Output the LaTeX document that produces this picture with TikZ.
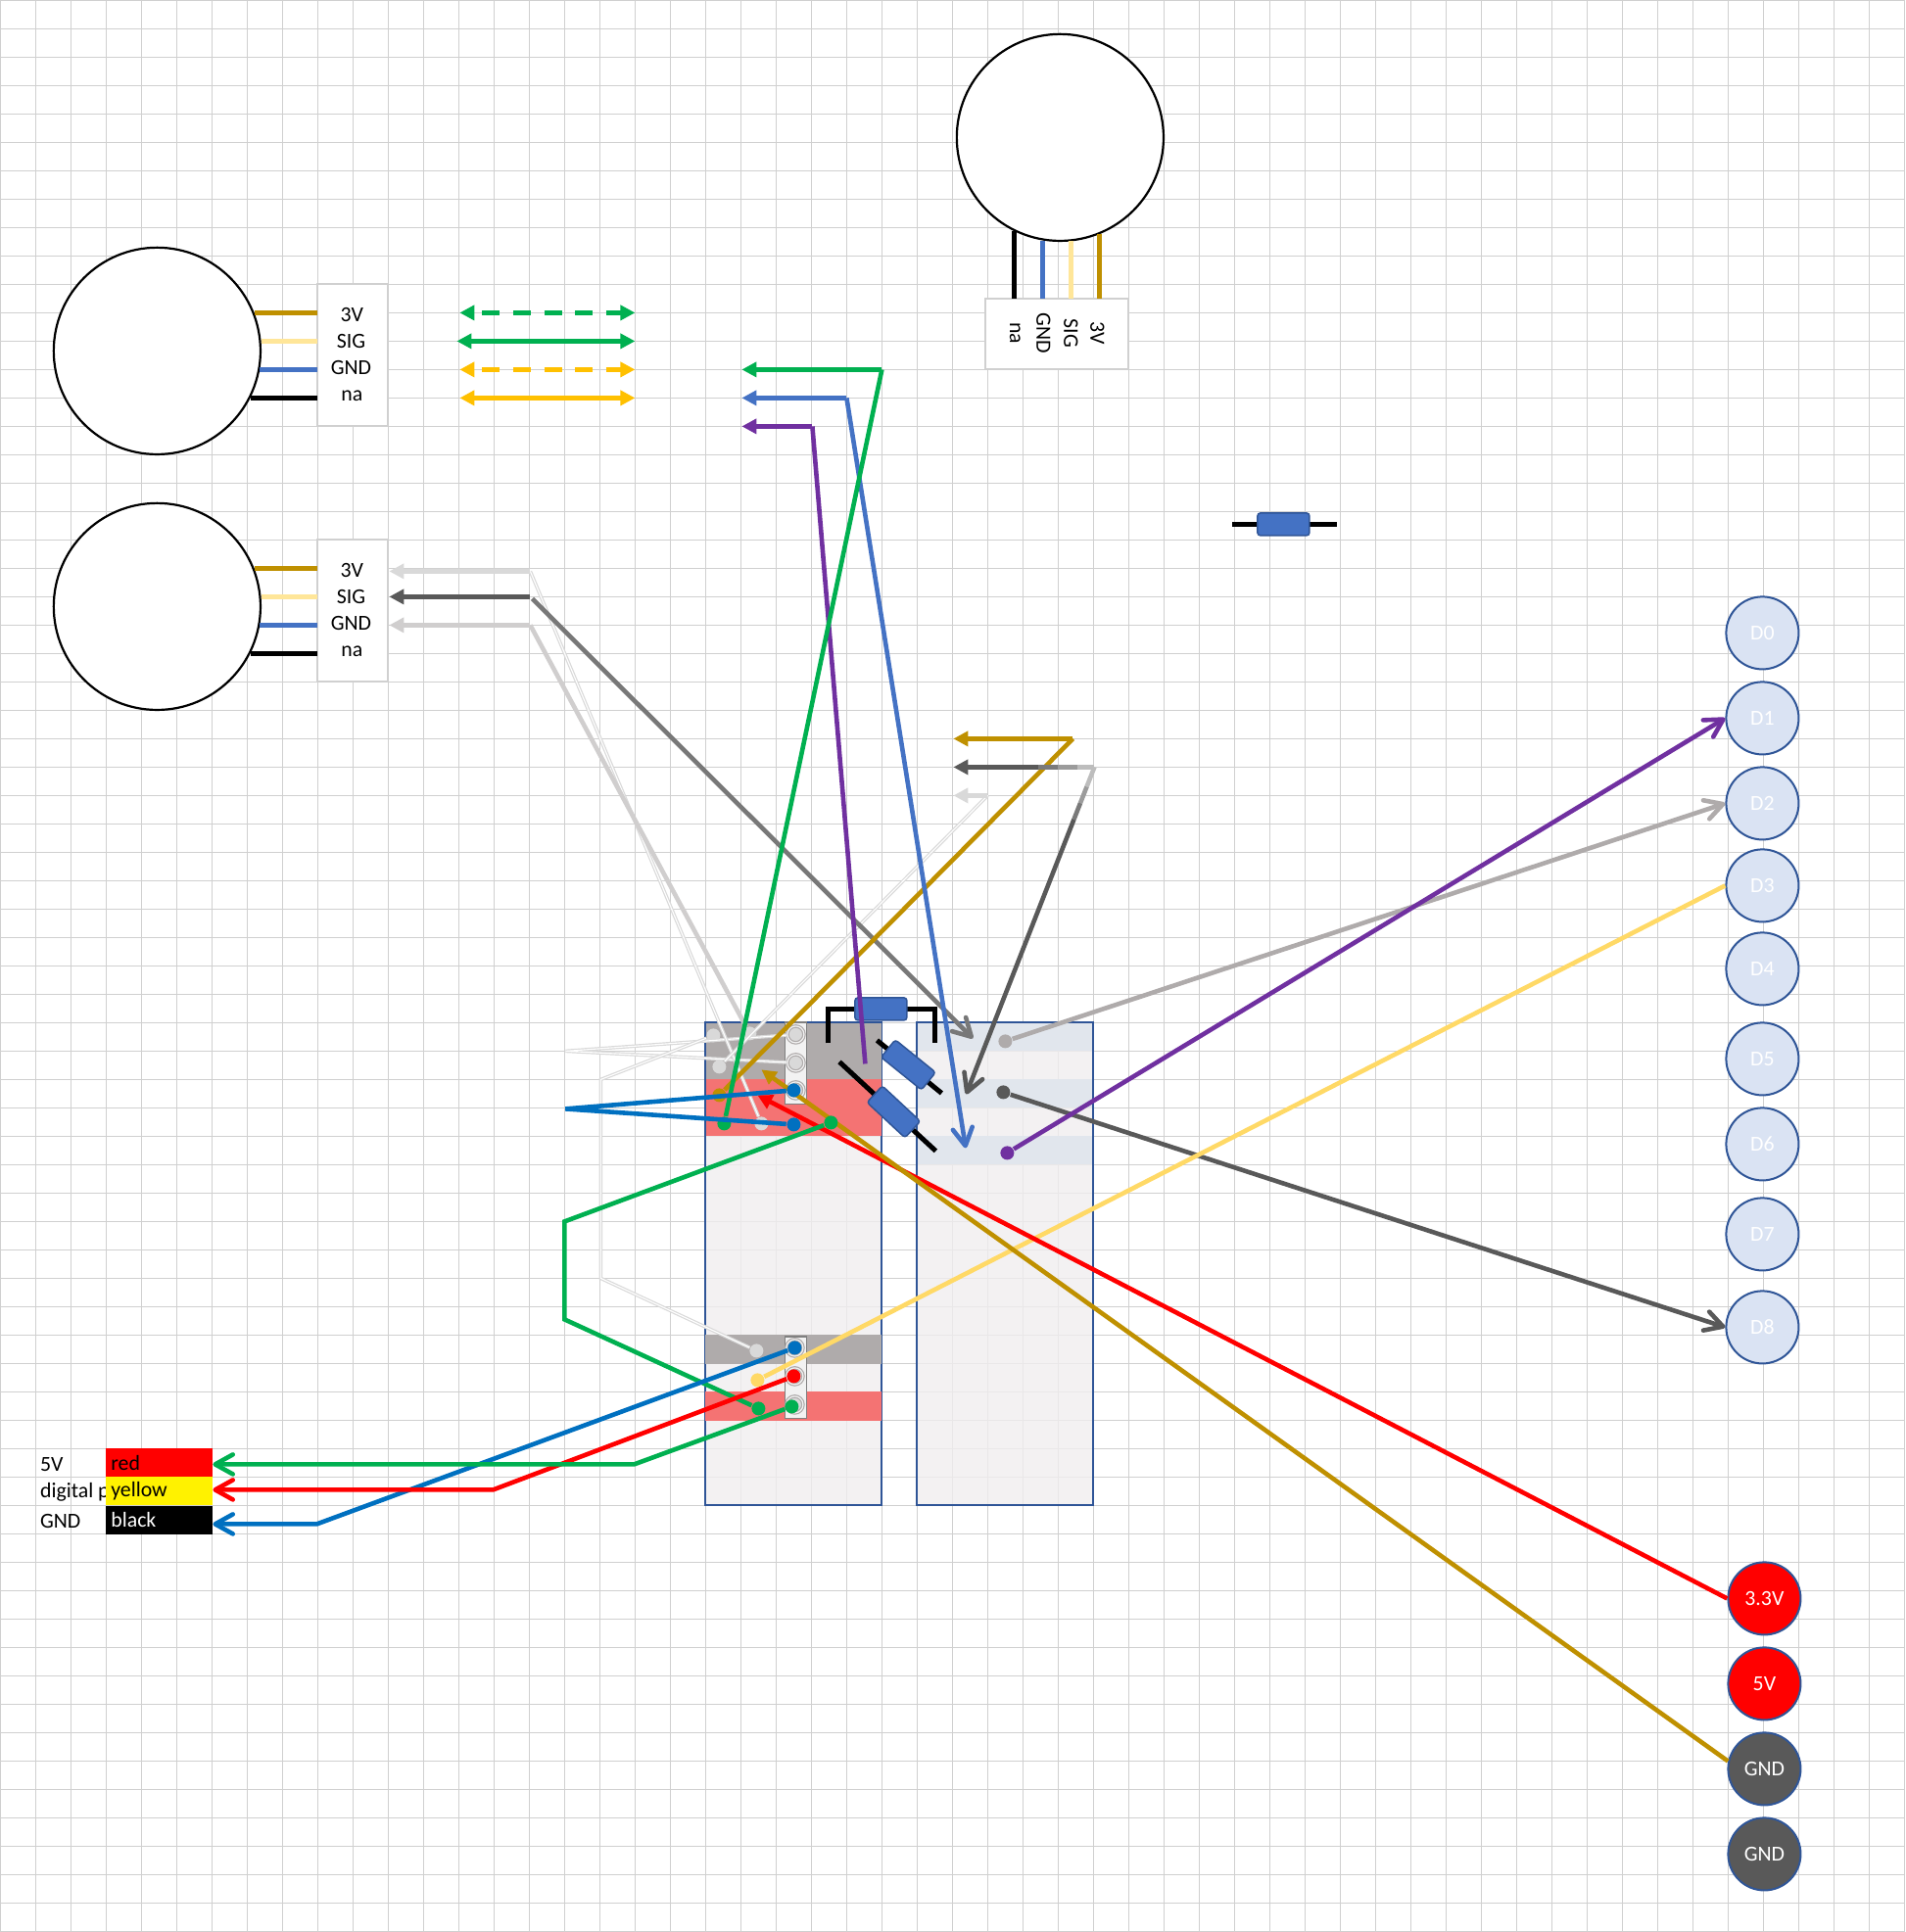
\documentclass[tikz,border=0pt]{standalone}
\usepackage{fontspec}
\setmainfont{Carlito}
\usetikzlibrary{arrows.meta,calc}
\definecolor{gridgray}{HTML}{D0D0D0}
\definecolor{boardblue}{HTML}{2F5597}
\definecolor{boardfill}{HTML}{F0EDEF}
\definecolor{bandgray}{HTML}{AFABAB}
\definecolor{bandred}{HTML}{F47373}
\definecolor{bandpale}{HTML}{E1E6ED}
\definecolor{resblue}{HTML}{4472C4}
\definecolor{pinpale}{HTML}{DAE3F3}
\definecolor{wireamber}{HTML}{BF9000}
\definecolor{wirecream}{HTML}{FFE699}
\definecolor{wireyellow}{HTML}{FFD966}
\definecolor{wiregreen}{HTML}{00B050}
\definecolor{wireorange}{HTML}{FFC000}
\definecolor{wirepurple}{HTML}{7030A0}
\definecolor{wiredeep}{HTML}{0070C0}
\definecolor{wiredark}{HTML}{595959}
\definecolor{wirelight}{HTML}{D9D9D9}
\definecolor{wirethick}{HTML}{D0CECE}
\tikzset{
  tri/.tip={Triangle[length=.15cm,width=.15cm]},
  barb/.tip={Straight Barb[length=.18cm,width=.2cm,round]},
  wire/.style={line width=.046cm,draw=#1},
  thinwire/.style={line width=.012cm,draw=wirelight,double=white,double distance=.011cm},
  lead/.style={line width=.05cm,draw=black},
  sensor/.style={circle,draw=black,fill=white,line width=.022cm,minimum size=2.11cm,inner sep=0pt},
  sensorbox/.style={rectangle,draw=gridgray,fill=white,line width=.02cm,inner sep=0pt},
  txt/.style={inner sep=0pt,font=\fontsize{6.2}{7}\selectfont},
  pinhead/.style={circle,draw=boardblue,fill=#1,line width=.02cm,minimum size=.74cm,inner sep=0pt,text=white,font=\fontsize{6.2}{7}\selectfont},
  legcell/.style={rectangle,fill=#1,inner xsep=.05cm,inner ysep=0pt,text width=.99cm,minimum height=.29cm,align=left,font=\fontsize{6.2}{7}\selectfont},
  resbody/.style={rectangle,draw=boardblue,fill=resblue,line width=.015cm,rounded corners=.03cm,minimum width=.53cm,minimum height=.23cm,inner sep=0pt},
  strip/.style={rectangle,draw=black!50,fill=black!5,line width=.018cm,minimum width=.22cm,minimum height=.83cm,inner sep=0pt},
  hole/.style={circle,draw=bandgray,fill=wirelight,line width=.012cm,double=black!5,double distance=.012cm,minimum size=.17cm,inner sep=0pt},
  wiredot/.style={circle,fill=#1,minimum size=.14cm,inner sep=0pt},
}
\begin{document}
\begin{tikzpicture}[x=.01cm,y=-.01cm]
        \useasboundingbox (-.4,-.4) rectangle (1944.6,1972.6);
        \draw[gridgray,line width=.011cm,y=.01cm,xstep=36,ystep=29] (-.4,-1972.6) grid (1944.6,.4);

        \node[sensor] (sensorA) at (160,358) {};
        \node[sensor] (sensorB) at (160,619) {};
        \node[sensor] (sensorC) at (1082,140) {};
        \node[sensorbox,minimum width=.72cm,minimum height=1.45cm] (boxA) at (360,362.5) {};
        \node[sensorbox,minimum width=.72cm,minimum height=1.45cm] (boxB) at (360,623.5) {};
        \node[sensorbox,minimum width=1.46cm,minimum height=.72cm] (boxC) at (1078.7,341) {};
        \node[txt] (aThree) at (359,321) {3V};
        \node[txt] (aSig) at (358,348) {SIG};
        \node[txt] (aGnd) at (358,375) {GND};
        \node[txt] (aNa) at (359,404) {na};
        \node[txt] (bThree) at (359,582) {3V};
        \node[txt] (bSig) at (358,609) {SIG};
        \node[txt] (bGnd) at (358,636) {GND};
        \node[txt] (bNa) at (359,665) {na};
        \node[txt,rotate=-90] (cNa) at (1036,340) {na};
        \node[txt,rotate=-90] (cGnd) at (1065,340) {GND};
        \node[txt,rotate=-90] (cSig) at (1093,340) {SIG};
        \node[txt,rotate=-90] (cThree) at (1120,340) {3V};
        \coordinate (aEndOne) at (324,319);
        \coordinate (aEndTwo) at (324,348);
        \coordinate (aEndThree) at (324,377);
        \coordinate (aEndFour) at (324,406);
        \coordinate (bEndOne) at (324,580);
        \coordinate (bEndTwo) at (324,609);
        \coordinate (bEndThree) at (324,638);
        \coordinate (bEndFour) at (324,667);
        \coordinate (cEndOne) at (1035,305);
        \coordinate (cEndTwo) at (1064,305);
        \coordinate (cEndThree) at (1093,305);
        \coordinate (cEndFour) at (1122,305);
        \draw[wire=wireamber] (sensorA.21.6 |- aEndOne) -- (aEndOne);
        \draw[wire=wirecream] (sensorA.5.4 |- aEndTwo) -- (aEndTwo);
        \draw[wire=resblue] (sensorA.-10.3 |- aEndThree) -- (aEndThree);
        \draw[wire=black] (sensorA.-26.9 |- aEndFour) -- (aEndFour);
        \draw[wire=wireamber] (sensorB.21.6 |- bEndOne) -- (bEndOne);
        \draw[wire=wirecream] (sensorB.5.4 |- bEndTwo) -- (bEndTwo);
        \draw[wire=resblue] (sensorB.-10.3 |- bEndThree) -- (bEndThree);
        \draw[wire=black] (sensorB.-26.9 |- bEndFour) -- (bEndFour);
        \draw[wire=black] (sensorC.-116.3 -| cEndOne) -- (cEndOne);
        \draw[wire=resblue] (sensorC.-99.8 -| cEndTwo) -- (cEndTwo);
        \draw[wire=wirecream] (sensorC.-84 -| cEndThree) -- (cEndThree);
        \draw[wire=wireamber] (sensorC.-67.8 -| cEndFour) -- (cEndFour);

        \coordinate (keyOneL) at (469,319);
        \coordinate (keyOneR) at (648,319);
        \coordinate (keyTwoL) at (466,348);
        \coordinate (keyTwoR) at (648,348);
        \coordinate (keyThreeL) at (469,377);
        \coordinate (keyThreeR) at (648,377);
        \coordinate (keyFourL) at (469,406);
        \coordinate (keyFourR) at (648,406);
        \draw[wire=wiregreen,tri-tri,dash pattern=on .18cm off .135cm,dash phase=.225cm] (keyOneL) -- (keyOneR);
        \draw[wire=wiregreen,tri-tri] (keyTwoL) -- (keyTwoR);
        \draw[wire=wireorange,tri-tri,dash pattern=on .18cm off .135cm,dash phase=.225cm] (keyThreeL) -- (keyThreeR);
        \draw[wire=wireorange,tri-tri] (keyFourL) -- (keyFourR);

        \coordinate (loneL) at (1258,535);
        \coordinate (loneR) at (1365,535);
        \draw[lead] (loneL) -- (loneR);
        \node[resbody] (resLone) at (1310,535) {};

        \draw[boardblue,fill=boardfill,fill opacity=.8,line width=.02cm] (720,1044) rectangle (900,1537);
        \draw[boardblue,fill=boardfill,fill opacity=.8,line width=.02cm] (936,1044) rectangle (1116,1537);
        \fill[bandgray] (721,1044.5) rectangle (900,1102);
        \fill[bandred] (721,1102) rectangle (900,1160);
        \fill[bandgray] (720,1363) rectangle (900,1393);
        \fill[bandred] (720,1421) rectangle (900,1451);
        \fill[bandpale] (937,1045) rectangle (1115,1073);
        \fill[bandpale] (937,1102) rectangle (1115,1131);
        \fill[bandpale] (937,1160) rectangle (1115,1189);

        \node[strip] (stripA) at (812,1085.5) {};
        \node[strip] (stripB) at (812,1406.5) {};
        \node[hole] (holeAa) at (812,1056) {};
        \node[hole] (holeAb) at (812,1085) {};
        \node[hole] (holeAc) at (812,1113) {};
        \node[hole] (holeBa) at (811,1376) {};
        \node[hole] (holeBb) at (811,1405) {};
        \node[hole] (holeBc) at (811,1434) {};

        \coordinate (resAa) at (845.5,1065);
        \coordinate (resAb) at (845.5,1030);
        \coordinate (resAc) at (954,1030);
        \coordinate (resAd) at (954,1065);
        \draw[lead] (resAa) -- (resAb) -- (resAc) -- (resAd);
        \node[resbody] (resA) at (899,1030) {};
        \coordinate (resBa) at (895,1062);
        \coordinate (resBb) at (961,1116);
        \draw[lead] (resBa) -- (resBb);
        \node[resbody,rotate=-39] (resB) at (927,1087) {};
        \coordinate (resCa) at (856.6,1084);
        \coordinate (resCb) at (955,1175);
        \draw[lead] (resCa) -- (resCb);
        \node[resbody,rotate=-43] (resC) at (912,1135) {};

        \node[wiredot=wirelight] (dotLa) at (728,1057) {};
        \node[wiredot=wirelight] (dotLb) at (765,1055) {};
        \node[wiredot=wirelight] (dotLc) at (734,1089) {};
        \node[wiredot=wirelight] (dotLd) at (777,1147) {};
        \node[wiredot=wirelight] (dotLe) at (772,1379) {};
        \coordinate (meetHoles) at (577,1073);
        \coordinate (bendLa) at (613,1102);
        \coordinate (bendLb) at (613,1305);
        \coordinate (bendLc) at (541,583);
        \coordinate (bendLd) at (1008,812);
        \coordinate (bendLe) at (541,638);
        \coordinate (tipBa) at (397,583);
        \coordinate (tipBb) at (397,638);
        \coordinate (tipLd) at (973,812);
        \draw[thinwire] (holeAa) -- (meetHoles) -- (holeAb);
        \draw[thinwire] (dotLa) -- (bendLa) -- (bendLb) -- (dotLe);
        \draw[thinwire] (bendLc) -- (dotLd);
        \draw[thinwire] (bendLd) -- (dotLc);
        \draw[wire=wirelight,-tri] (bendLc) -- (tipBa);
        \draw[wire=wirelight,-tri] (bendLd) -- (tipLd);
        \draw[wire=wirethick,-tri] (bendLe) -- (tipBb);
        \draw[wire=wirethick] (bendLe) -- (dotLb);

        \coordinate (bendSa) at (541,609);
        \coordinate (bendSb) at (543,611);
        \coordinate (tipBc) at (397,609);
        \coordinate (tipSb) at (993,1060);
        \draw[wire=wiredark,-tri] (bendSa) -- (tipBc);
        \draw[wire=black!53,-barb] (bendSb) -- (tipSb);

        \node[pinhead=pinpale] (pinZero) at (1799,646) {D0};
        \node[pinhead=pinpale] (pinOne) at (1799,733) {D1};
        \node[pinhead=pinpale] (pinTwo) at (1799,820) {D2};
        \node[pinhead=pinpale] (pinThree) at (1799,904) {D3};
        \node[pinhead=pinpale] (pinFour) at (1799,989) {D4};
        \node[pinhead=pinpale] (pinFive) at (1799,1081) {D5};
        \node[pinhead=pinpale] (pinSix) at (1799,1168) {D6};
        \node[pinhead=pinpale] (pinSeven) at (1799,1260) {D7};
        \node[pinhead=pinpale] (pinEight) at (1799,1355) {D8};
        \node[pinhead=red] (pinThreeV) at (1801,1632) {3.3V};
        \node[pinhead=red] (pinFiveV) at (1801,1719) {5V};
        \node[pinhead=wiredark] (pinGndA) at (1801,1806) {GND};
        \node[pinhead=wiredark] (pinGndB) at (1801,1893) {GND};

        \node[txt,anchor=west] (textFive) at (40,1495) {5V};
        \node[txt,anchor=west] (textDigital) at (40,1523) {digital p};
        \node[txt,anchor=west] (textGnd) at (40,1553) {GND};
        \node[legcell=red] (legRed) at (162.5,1493.5) {red};
        \node[legcell=yellow] (legYellow) at (162.5,1522.5) {yellow};
        \node[legcell=black,text=white] (legBlack) at (162.5,1552) {black};
        \coordinate (tipKeyG) at (217,1495);
        \coordinate (tipKeyR) at (217,1521);
        \coordinate (tipKeyB) at (217,1556);

        \node[wiredot=bandgray] (dotGray) at (1026,1063) {};
        \node[wiredot=wiredark] (dotDark) at (1024,1115) {};
        \node[wiredot=wirepurple] (dotPurple) at (1028,1177) {};
        \node[wiredot=wireyellow] (dotYellow) at (773,1409) {};
        \node[wiredot=wireamber] (dotAmber) at (734,1118) {};
        \draw[wire=bandgray,-barb] (dotGray) -- (pinTwo.west);
        \draw[wire=wiredark,-barb] (dotDark) -- (pinEight.west);
        \draw[wire=wirepurple,-barb] (dotPurple) -- (pinOne.west);
        \draw[wire=wireyellow] (dotYellow) -- (pinThree.west);

        \coordinate (tipAmberL) at (777,1092);
        \coordinate (tipRedL) at (773,1118);
        \draw[wire=red,-tri] (pinThreeV.west) -- (tipRedL);
        \draw[wire=wireamber,-tri] (pinGndA.168) -- (tipAmberL);

        \coordinate (tipAmberT) at (973,754);
        \coordinate (bendAmber) at (1095,754);
        \draw[wire=wireamber,-tri] (bendAmber) -- (tipAmberT);
        \draw[wire=wireamber] (bendAmber) -- (dotAmber);

        \coordinate (tipDarkT) at (973,783);
        \coordinate (bendDark) at (1117,783);
        \coordinate (tipDarkB) at (986,1117);
        \draw[wire=wiredark,-tri] (1060,783) -- (tipDarkT);
        \draw[wire=wiredark!80!white] (1060,783) -- (1080,783);
        \draw[wire=wiredark!60!white] (1080,783) -- (1100,783);
        \draw[wire=wiredark!40!white] (1100,783) -- (bendDark);
        \draw[wire=wiredark!40!white] (bendDark) -- ($(bendDark)!.06!(tipDarkB)$);
        \draw[wire=wiredark!60!white] ($(bendDark)!.06!(tipDarkB)$) -- ($(bendDark)!.11!(tipDarkB)$);
        \draw[wire=wiredark!80!white] ($(bendDark)!.11!(tipDarkB)$) -- ($(bendDark)!.16!(tipDarkB)$);
        \draw[wire=wiredark,-barb] ($(bendDark)!.16!(tipDarkB)$) -- (tipDarkB);

        \coordinate (tipPurpleT) at (757,435);
        \coordinate (bendPurple) at (829,435);
        \coordinate (endPurple) at (883,1086);
        \draw[wire=wirepurple,-tri] (bendPurple) -- (tipPurpleT);
        \draw[wire=wirepurple] (bendPurple) -- (endPurple);

        \coordinate (tipBlueT) at (757,406);
        \coordinate (bendBlue) at (864,406);
        \coordinate (tipBlueB) at (985.6,1172);
        \draw[wire=resblue,-tri] (bendBlue) -- (tipBlueT);
        \draw[wire=resblue,-barb] (bendBlue) -- (tipBlueB);

        \coordinate (tipGreenT) at (757,377);
        \coordinate (bendGreen) at (900,377);
        \node[wiredot=wiredeep] (dotDeepA) at (810,1113) {};
        \node[wiredot=wiredeep] (dotDeepB) at (810,1148) {};
        \node[wiredot=wiredeep] (dotDeepC) at (811,1376) {};
        \node[wiredot=wiregreen] (dotGreenA) at (739,1147) {};
        \node[wiredot=wiregreen] (dotGreenB) at (848,1146) {};
        \node[wiredot=wiregreen] (dotGreenC) at (774,1438) {};
        \node[wiredot=wiregreen] (dotGreenD) at (808,1436) {};
        \node[wiredot=red] (dotRed) at (810,1405) {};
        \draw[wire=wiregreen,-tri] (bendGreen) -- (tipGreenT);
        \draw[wire=wiregreen] (bendGreen) -- (dotGreenA);

        \coordinate (meetDeep) at (577,1132);
        \draw[wire=wiredeep] (dotDeepA) -- (meetDeep) -- (dotDeepB);

        \coordinate (bendGa) at (576,1247);
        \coordinate (bendGb) at (576,1347);
        \draw[wire=wiregreen] (dotGreenB) -- (bendGa) -- (bendGb) -- (dotGreenC);

        \coordinate (bendKeyG) at (647,1495);
        \coordinate (bendKeyR) at (503,1521);
        \coordinate (bendKeyB) at (323,1556);
        \draw[wire=wiredeep,-barb] (dotDeepC) -- (bendKeyB) -- (tipKeyB);
        \draw[wire=red,-barb] (dotRed) -- (bendKeyR) -- (tipKeyR);
        \draw[wire=wiregreen,-barb] (dotGreenD) -- (bendKeyG) -- (tipKeyG);
    \end{tikzpicture}
\end{document}
